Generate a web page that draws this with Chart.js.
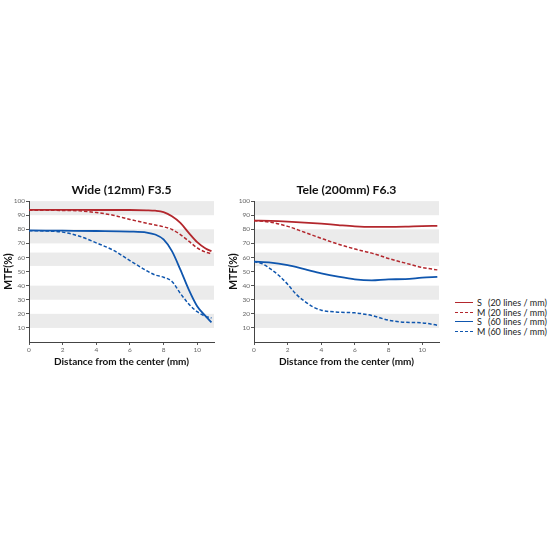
<!DOCTYPE html>
<html><head><meta charset="utf-8">
<script src="https://cdn.jsdelivr.net/npm/chart.js@4/dist/chart.umd.min.js"></script>
<style>
body{margin:0;background:#fff;width:550px;height:550px;position:relative;overflow:hidden;font-family:Lato,sans-serif}
.c{position:absolute}
#legend{position:absolute;left:455px;top:298px;font-size:9px;color:#222}
.row{height:9.5px;line-height:9.5px;white-space:nowrap;display:flex;align-items:center}
.sw{width:18px;height:0;border-top-width:1.5px;margin-right:4px}
.k{display:inline-block;width:11px}
</style></head><body>
<div class="c" style="left:0;top:175px;width:225px;height:195px"><canvas id="c1"></canvas></div>
<div class="c" style="left:225px;top:175px;width:225px;height:195px"><canvas id="c2"></canvas></div>
<div id="legend"></div>
<script>
// ---- data ----
const seriesNames = ['S', 'M', 'S', 'M'];
const seriesFreq = ['(20 lines / mm)', '(20 lines / mm)', '(60 lines / mm)', '(60 lines / mm)'];
const chartTitles = ['Wide (12mm) F3.5', 'Tele (200mm) F6.3'];
const xTitle = 'Distance from the center (mm)';
const yTitle = 'MTF(%)';
const xTicks = [0, 2, 4, 6, 8, 10];
const yTicks = [10, 20, 30, 40, 50, 60, 70, 80, 90, 100];
const bandLow = [90, 70, 54, 30, 10];
const bandHigh = [100, 80, 63.5, 40, 20];

const wideS20x = [0, 2, 4, 6, 7, 7.5, 8, 8.5, 9, 9.5, 10, 10.5, 10.85];
const wideS20y = [93.8, 93.8, 93.7, 93.7, 93.5, 93.2, 92.2, 89.3, 84.6, 77.5, 70.9, 66.4, 64.5];
const wideM20x = [0, 1, 2, 3, 4, 5, 6, 7, 8, 8.5, 9, 9.5, 10, 10.5, 10.85];
const wideM20y = [93.6, 93.5, 93.4, 93.1, 91.9, 90, 87, 84.3, 81.8, 79.9, 76.3, 71.6, 66.8, 63.8, 62.6];
const wideS60x = [0, 2, 4, 6, 7, 7.5, 8, 8.5, 9, 9.5, 10, 10.5, 10.85];
const wideS60y = [79.2, 79, 78.8, 78.4, 77.7, 76.3, 72.8, 64.5, 51.4, 37.2, 25.4, 18.3, 14];
const wideM60x = [0, 1, 2, 3, 4, 5, 6, 7, 7.5, 8, 8.5, 9, 9.5, 10, 10.5, 10.85];
const wideM60y = [79, 78.8, 78, 75.1, 70.4, 65.2, 57.8, 50.6, 47.6, 46, 43, 34.5, 27, 21.5, 18.2, 17.1];

const teleS20x = [0, 1, 2, 3, 4, 5, 6, 7, 8, 9, 10, 10.9];
const teleS20y = [86.2, 86, 85.5, 84.8, 84, 83, 82.1, 81.7, 81.7, 81.9, 82.3, 82.4];
const teleM20x = [0, 1, 2, 3, 4, 5, 6, 7, 8, 9, 10, 10.9];
const teleM20y = [86.2, 85, 82.1, 77.9, 73.6, 69.5, 66, 63.1, 59.3, 56, 52.9, 51.2];
const teleS60x = [0, 1, 2, 3, 4, 5, 6, 7, 8, 9, 10, 10.9];
const teleS60y = [57.1, 56.4, 54.5, 51.7, 48.8, 46.4, 44.5, 43.8, 44.5, 44.6, 45.7, 46.2];
const teleM60x = [0, 0.5, 1, 1.5, 2, 2.5, 3, 3.5, 4, 5, 6, 7, 8, 9, 10, 10.9];
const teleM60y = [57.1, 55.5, 51.7, 47, 41, 34, 29, 25, 22.6, 21.2, 20.7, 18.8, 15.5, 14, 13.6, 11.9];

// ---- styles ----
const RED = '#b3272d', BLUE = '#0f56ae';
const colors = [RED, RED, BLUE, BLUE];
const dashed = [false, true, false, true];

Chart.defaults.font.family = 'Lato, sans-serif';

const pts = (xs, ys) => xs.map((x, i) => ({x: x, y: ys[i]}));

const bandPlugin = {
  id: 'bands',
  beforeDraw(chart) {
    const {ctx, chartArea: a, scales: {y}} = chart;
    ctx.save();
    ctx.fillStyle = '#ebebeb';
    bandLow.forEach((lo, i) => {
      const t = y.getPixelForValue(bandHigh[i]);
      const b = y.getPixelForValue(lo);
      ctx.fillRect(a.left, t, a.right - a.left, b - t);
    });
    ctx.restore();
  }
};

function makeChart(id, title, sets) {
  const datasets = sets.map((s, i) => ({
    data: pts(s[0], s[1]),
    borderColor: colors[i],
    borderWidth: dashed[i] ? 1.5 : 1.8,
    borderDash: dashed[i] ? [3.5, 2] : [],
    pointRadius: 0,
    fill: false,
    cubicInterpolationMode: 'monotone'
  }));
  return new Chart(document.getElementById(id), {
    type: 'line',
    data: {datasets: datasets},
    plugins: [bandPlugin],
    options: {
      responsive: true,
      maintainAspectRatio: false,
      animation: false,
      layout: {padding: {left: 0, right: 11, top: 0, bottom: 0}},
      plugins: {
        legend: {display: false},
        tooltip: {enabled: false},
        title: {display: true, fullSize: false, text: title, color: '#111', font: {size: 12.2, weight: 'bold'}, padding: {top: 7.5, bottom: 4}}
      },
      scales: {
        x: {
          type: 'linear', min: 0, max: 11,
          afterBuildTicks: s => { s.ticks = xTicks.map(v => ({value: v})); },
          afterFit: s => { s.height = 28; },
          grid: {drawOnChartArea: false, drawTicks: true, tickLength: 3, color: '#555'},
          border: {color: '#444', width: 1},
          ticks: {font: {size: 6.5}, color: '#666', padding: 1, maxRotation: 0, autoSkip: false},
          title: {display: true, text: xTitle, color: '#111', font: {size: 10, weight: 'bold'}, padding: {top: 0, bottom: 2}}
        },
        y: {
          type: 'linear', min: 0, max: 100,
          afterBuildTicks: s => { s.ticks = yTicks.map(v => ({value: v})); },
          afterFit: s => { s.width = 29; },
          grid: {drawOnChartArea: false, drawTicks: true, tickLength: 3, color: '#555'},
          border: {color: '#444', width: 1},
          ticks: {font: {size: 6.5}, color: '#666', padding: 1, autoSkip: false},
          title: {display: true, text: yTitle, color: '#111', font: {size: 10.5, weight: 'bold'}, padding: {top: 2, bottom: 2}}
        }
      }
    }
  });
}

makeChart('c1', chartTitles[0], [[wideS20x, wideS20y], [wideM20x, wideM20y], [wideS60x, wideS60y], [wideM60x, wideM60y]]);
makeChart('c2', chartTitles[1], [[teleS20x, teleS20y], [teleM20x, teleM20y], [teleS60x, teleS60y], [teleM60x, teleM60y]]);

// legend
const lg = document.getElementById('legend');
seriesNames.forEach((n, i) => {
  const r = document.createElement('div');
  r.className = 'row';
  const sw = document.createElement('span');
  sw.className = 'sw';
  sw.style.borderTopStyle = dashed[i] ? 'dashed' : 'solid';
  sw.style.borderTopColor = colors[i];
  const k = document.createElement('span');
  k.className = 'k';
  k.textContent = n;
  const t = document.createElement('span');
  t.textContent = seriesFreq[i];
  r.appendChild(sw); r.appendChild(k); r.appendChild(t);
  lg.appendChild(r);
});
</script>
</body></html>
